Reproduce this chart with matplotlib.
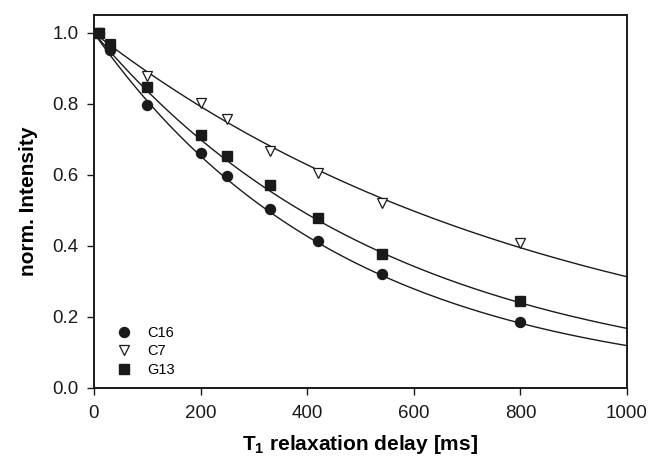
import numpy as np
import matplotlib
matplotlib.use('Agg')
import matplotlib.pyplot as plt

plt.rcParams['font.family'] = ['Liberation Sans', 'DejaVu Sans']
plt.rcParams['mathtext.fontset'] = 'custom'
plt.rcParams['mathtext.rm'] = 'Liberation Sans'
plt.rcParams['mathtext.bf'] = 'Liberation Sans:bold'

# relaxation delays [ms]
delay = [10, 30, 100, 200, 250, 330, 420, 540, 800]

# normalised intensities
c16 = [1.0, 0.952, 0.796, 0.662, 0.597, 0.504, 0.413, 0.321, 0.185]
c7 = [1.0, 0.970, 0.879, 0.802, 0.757, 0.668, 0.605, 0.520, 0.408]
g13 = [1.0, 0.966, 0.847, 0.713, 0.654, 0.572, 0.479, 0.377, 0.245]

# fitted T1 values [ms] for the mono-exponential curves
t1_c16 = 470.0
t1_c7 = 861.0
t1_g13 = 560.0

fig = plt.figure(figsize=(6.52, 4.58), dpi=100)
ax = fig.add_axes([0.144, 0.153, 0.8177, 0.814])

t = np.linspace(0, 1000, 400)
for t1 in (t1_c16, t1_c7, t1_g13):
    ax.plot(t, np.exp(-t / t1), color='#1a1a1a', lw=1.0)

ax.plot(delay, c16, 'o', color='#1a1a1a', ms=7.2, label='C16')
ax.plot(delay, c7, 'v', mfc='white', mec='#1a1a1a', mew=0.9, ms=7.5, label='C7')
ax.plot(delay, g13, 's', color='#1a1a1a', ms=6.5, label='G13')

ax.set_xlim(0, 1000)
ax.set_ylim(0, 1.05)
ax.set_xticks([0, 200, 400, 600, 800, 1000])
ax.set_yticks([0.0, 0.2, 0.4, 0.6, 0.8, 1.0])
ax.set_yticklabels(['0.0', '0.2', '0.4', '0.6', '0.8', '1.0'])
ax.tick_params(direction='out', length=5, width=1.0, labelsize=13.5, colors='#1a1a1a')
ax.tick_params(axis='x', pad=7)
ax.tick_params(axis='y', pad=6)
for s in ax.spines.values():
    s.set_linewidth(1.4)
    s.set_color('#1a1a1a')

ax.set_xlabel(r'$\mathbf{T_1}$ relaxation delay [ms]', fontsize=15, fontweight='bold', labelpad=8)
ax.set_ylabel('norm. Intensity', fontsize=15, fontweight='bold', labelpad=10)

ax.legend(loc='lower left', bbox_to_anchor=(0.015, -0.005), frameon=False, fontsize=10.5,
          handletextpad=1.0, labelspacing=0.3, handlelength=1.2)

plt.savefig('out.png', dpi=100)
